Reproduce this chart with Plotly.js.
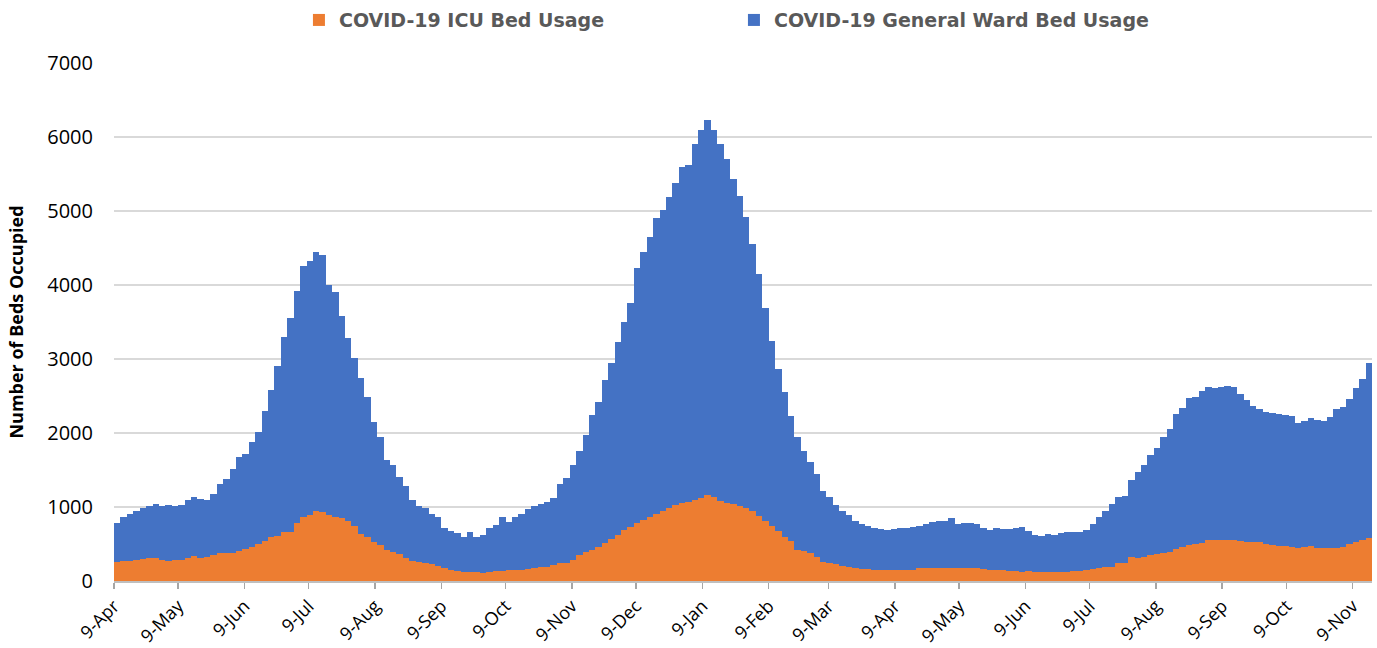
<!DOCTYPE html>
<html>
<head>
<meta charset="utf-8">
<script src="https://cdn.plot.ly/plotly-3.0.1.min.js"></script>
<style>
  html, body { margin: 0; padding: 0; background: #ffffff; }
  #chart { width: 1377px; height: 648px; }
</style>
</head>
<body>
<div id="chart"></div>
<script>
// Each value covers a 3-day block starting 9-Apr-2020
const startDate = '2020-04-09';
const blockDays = 3;

const icuBeds = [
  255,270,270,280,300,310,305,290,270,285,290,315,335,310,320,350,380,380,380,405,
  430,455,505,545,600,605,660,665,780,860,895,940,930,890,865,850,810,740,635,590,
  525,480,415,390,360,305,270,255,242,228,205,170,143,130,122,118,115,113,125,135,
  140,143,148,155,165,175,183,192,212,238,250,290,345,390,425,455,510,570,625,685,
  735,785,830,868,910,950,980,1025,1055,1068,1095,1125,1160,1130,1085,1049,1035,1015,983,940,
  880,810,740,670,600,540,420,400,380,330,255,240,230,200,185,170,163,157,153,150,
  146,145,145,145,155,172,178,180,181,181,181,181,181,181,175,168,148,145,145,140,
  133,128,136,125,118,128,125,118,124,130,136,148,160,175,183,195,238,250,322,305,
  320,348,370,385,394,430,458,480,495,515,550,555,553,555,560,545,530,529,529,500,
  482,475,468,460,452,460,470,445,440,443,448,460,500,530,560,585
];

const generalWardBeds = [
  535,590,630,660,685,700,740,723,760,725,740,775,795,800,780,830,930,1000,1140,1265,
  1290,1425,1515,1755,1980,2295,2640,2885,3140,3400,3425,3510,3470,3110,3035,2730,2480,2280,2115,1890,
  1625,1470,1225,1180,1040,985,830,755,743,682,655,550,527,520,478,542,485,507,595,625,
  720,657,720,755,810,835,857,878,908,1072,1138,1280,1415,1580,1815,1965,2210,2370,2605,2815,
  3025,3445,3610,3782,3990,4070,4205,4355,4535,4552,4805,4975,5070,4970,4825,4651,4395,4185,3937,3610,
  3270,2880,2510,2190,1950,1690,1520,1360,1230,1120,955,890,800,745,705,640,602,588,567,550,
  544,560,565,575,570,568,597,615,629,629,665,594,597,597,590,552,542,571,563,562,
  582,600,534,500,490,512,497,524,540,534,528,542,610,695,757,845,901,900,1038,1165,
  1250,1356,1430,1565,1661,1830,1882,1993,1985,2055,2070,2055,2072,2075,2060,1985,1910,1831,1801,1790,
  1783,1777,1772,1768,1688,1700,1730,1725,1725,1767,1872,1890,1960,2080,2165,2365
];

const tickDates = [
  '2020-04-09','2020-05-09','2020-06-09','2020-07-09','2020-08-09','2020-09-09','2020-10-09',
  '2020-11-09','2020-12-09','2021-01-09','2021-02-09','2021-03-09','2021-04-09','2021-05-09',
  '2021-06-09','2021-07-09','2021-08-09','2021-09-09','2021-10-09','2021-11-09'
];
const tickLabels = [
  '9-Apr','9-May','9-Jun','9-Jul','9-Aug','9-Sep','9-Oct','9-Nov','9-Dec','9-Jan',
  '9-Feb','9-Mar','9-Apr','9-May','9-Jun','9-Jul','9-Aug','9-Sep','9-Oct','9-Nov'
];

const DAY = 86400000;
const t0 = Date.UTC(2020, 3, 9);
function fmt(ms) { return new Date(ms).toISOString().slice(0, 19).replace('T', ' '); }
const xs = icuBeds.map((_, k) => fmt(t0 + (k * blockDays + blockDays / 2) * DAY));
const barWidth = blockDays * DAY;
const rangeEnd = fmt(t0 + icuBeds.length * blockDays * DAY);

const traces = [
  {
    type: 'bar', name: 'COVID-19 ICU Bed Usage', x: xs, y: icuBeds,
    width: barWidth, marker: { color: '#ED7D31', line: { width: 0 } }
  },
  {
    type: 'bar', name: 'COVID-19 General Ward Bed Usage', x: xs, y: generalWardBeds,
    width: barWidth, marker: { color: '#4472C4', line: { width: 0 } }
  }
];

const layout = {
  width: 1377, height: 648,
  barmode: 'stack', bargap: 0,
  paper_bgcolor: '#ffffff', plot_bgcolor: '#ffffff',
  margin: { l: 114, r: 5, t: 63, b: 67 },
  font: { family: 'Open Sans, Noto Sans, sans-serif', color: '#000000' },
  showlegend: true,
  legend: {
    orientation: 'h', x: 0.533, xanchor: 'center', xref: 'container',
    y: 0.969, yanchor: 'middle', yref: 'container',
    font: { size: 19, color: '#595959', family: 'DejaVu Sans, sans-serif', weight: 'bold' },
    entrywidth: 390, itemwidth: 30, traceorder: 'normal'
  },
  xaxis: {
    type: 'date', range: [startDate, rangeEnd],
    tickmode: 'array', tickvals: tickDates, ticktext: tickLabels,
    tickangle: -45, ticks: 'outside', ticklen: 6, tickcolor: '#a6a6a6', tickwidth: 1.5,
    showline: true, linecolor: '#bfbfbf', linewidth: 1.5,
    showgrid: false, zeroline: false,
    tickfont: { size: 18, color: '#000000' }
  },
  yaxis: {
    range: [0, 7000], dtick: 1000, tick0: 0,
    showgrid: true, gridcolor: '#d9d9d9', gridwidth: 1.5,
    zeroline: false, showline: false, ticks: '',
    ticklabelstandoff: 20,
    tickfont: { size: 20, color: '#000000' },
    title: { text: 'Number of Beds Occupied', font: { size: 18, color: '#000000', weight: 'bold' }, standoff: 18 }
  }
};

Plotly.newPlot('chart', traces, layout, { displayModeBar: false, staticPlot: true });
</script>
</body>
</html>
